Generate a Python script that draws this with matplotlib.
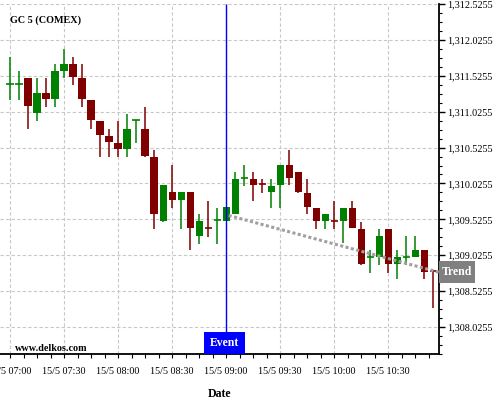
import matplotlib
matplotlib.use("Agg")
import matplotlib.pyplot as plt
from matplotlib.patches import Rectangle
from matplotlib.transforms import blended_transform_factory
from matplotlib.ticker import FixedLocator, MultipleLocator, FuncFormatter
import numpy as np

plt.rcParams['font.family'] = ['Liberation Serif', 'DejaVu Serif']

# 5-minute candles starting 15/5 07:00
opens  = [1311.410, 1311.410, 1311.498, 1311.002, 1311.289, 1311.196, 1311.599, 1311.692,
          1311.498, 1311.192, 1310.900, 1310.692, 1310.595, 1310.502, 1310.910, 1310.789,
          1310.400, 1309.502, 1309.900, 1309.794, 1309.900, 1309.294, 1309.410, 1309.512,
          1309.505, 1309.599, 1310.105, 1310.091, 1310.012, 1309.905, 1310.002, 1310.289,
          1310.188, 1309.896, 1309.688, 1309.502, 1309.507, 1309.502, 1309.688, 1309.396,
          1309.007, 1309.002, 1309.396, 1308.905, 1309.007, 1309.002, 1309.095, 1308.803]
highs  = [1311.789, 1311.591, 1311.498, 1311.498, 1311.498, 1311.692, 1311.896, 1311.789,
          1311.692, 1311.192, 1310.900, 1310.785, 1310.896, 1310.998, 1310.910, 1311.095,
          1310.494, 1309.998, 1310.280, 1309.900, 1309.900, 1309.595, 1309.785, 1309.682,
          1309.692, 1310.188, 1310.285, 1310.188, 1310.091, 1310.091, 1310.289, 1310.494,
          1310.188, 1310.088, 1309.688, 1309.595, 1309.782, 1309.688, 1309.785, 1309.494,
          1309.095, 1309.396, 1309.396, 1309.095, 1309.289, 1309.289, 1309.095, 1308.803]
lows   = [1311.188, 1311.188, 1310.785, 1310.896, 1311.091, 1311.091, 1311.494, 1311.396,
          1311.091, 1310.785, 1310.396, 1310.396, 1310.396, 1310.396, 1310.591, 1310.396,
          1309.396, 1309.490, 1309.688, 1309.396, 1309.095, 1309.188, 1309.283, 1309.188,
          1309.505, 1309.599, 1309.994, 1309.785, 1309.896, 1309.688, 1309.688, 1310.002,
          1309.887, 1309.595, 1309.396, 1309.396, 1309.396, 1309.192, 1309.405, 1308.896,
          1308.785, 1308.896, 1308.785, 1308.692, 1308.896, 1309.002, 1308.692, 1308.285]
closes = [1311.410, 1311.410, 1311.099, 1311.289, 1311.196, 1311.595, 1311.692, 1311.502,
          1311.196, 1310.905, 1310.696, 1310.599, 1310.502, 1310.789, 1310.910, 1310.405,
          1309.599, 1309.998, 1309.794, 1309.900, 1309.405, 1309.498, 1309.410, 1309.512,
          1309.692, 1310.091, 1310.105, 1309.998, 1310.012, 1309.994, 1310.289, 1310.099,
          1309.905, 1309.699, 1309.502, 1309.595, 1309.507, 1309.688, 1309.405, 1308.905,
          1309.007, 1309.289, 1308.905, 1308.998, 1309.007, 1309.095, 1308.794, 1308.803]
# direction for doji candles (True = up / green)
doji_up = {0: True, 1: True, 14: True, 22: False, 23: True, 26: True, 28: False,
           36: False, 40: True, 44: True, 47: False}

tick_labels = ["15/5 07:00", "15/5 07:30", "15/5 08:00", "15/5 08:30",
               "15/5 09:00", "15/5 09:30", "15/5 10:00", "15/5 10:30"]
tick_index = [0, 6, 12, 18, 24, 30, 36, 42]
event_index = 24
trend_x = [24.3, 47.63]
trend_y = [1309.58, 1308.79]

GREEN = '#008000'
RED = '#800000'

fig = plt.figure(figsize=(5, 4), dpi=100)
ax = fig.add_axes([0.0, 0.115, 0.8774, 0.875])

n = len(opens)
idx = np.arange(n)
bw = 0.78
for i in idx:
    o, h, l, c = opens[i], highs[i], lows[i], closes[i]
    if abs(c - o) < 1e-6:
        up = doji_up.get(i, True)
    else:
        up = c > o
    col = GREEN if up else RED
    ax.vlines(i, l, h, color=col, linewidth=1.1, zorder=3)
    if abs(c - o) < 0.02:
        ax.hlines((o + c) / 2, i - bw / 2, i + bw / 2, color=col, linewidth=1.2, zorder=3)
    else:
        ax.bar(i, abs(c - o), bottom=min(o, c), width=bw, color=col, zorder=4, linewidth=0)

ax.set_xlim(-1.111, 47.63)
ax.set_ylim(1307.65, 1312.5255)

# axes styling
for s in ['left', 'top']:
    ax.spines[s].set_visible(False)
for s in ['right', 'bottom']:
    ax.spines[s].set_linewidth(1.3)
    ax.spines[s].set_color('black')

ax.yaxis.tick_right()
ax.yaxis.set_major_locator(FixedLocator(np.arange(1308.0255, 1312.6, 0.5)))
ax.yaxis.set_minor_locator(FixedLocator(np.arange(1307.6505, 1312.6, 0.125)))
ax.yaxis.set_major_formatter(FuncFormatter(lambda v, p: f"{v:,.4f}"))
ax.tick_params(axis='y', which='major', direction='out', length=4, width=1, pad=2,
               labelsize=7.3, colors='black')
ax.tick_params(axis='y', which='minor', direction='out', length=2.5, width=0.8)

ax.set_xticks(tick_index)
ax.set_xticklabels(tick_labels)
ax.xaxis.set_minor_locator(MultipleLocator(1.5))
ax.tick_params(axis='x', which='major', direction='out', length=3, width=0.8, pad=6,
               labelsize=7.3)
ax.tick_params(axis='x', which='minor', direction='out', length=3, width=0.8)

ax.grid(True, which='major', color='#c8c8c8', linestyle=(0, (3, 2)), linewidth=0.8, zorder=0)
ax.set_axisbelow(True)

ax.set_xlabel("Date", fontsize=8.5, fontweight='bold', labelpad=9)

# trend line
ax.plot(trend_x, trend_y, color='#a0a0a0', linestyle=(0, (1, 0.8)), linewidth=2.2, zorder=5,
        solid_capstyle='butt', dash_capstyle='butt', clip_on=False)

# event marker
bt = blended_transform_factory(ax.transData, ax.transAxes)
box_h = 22 / 350
ax.vlines(event_index, box_h, 1.0, transform=bt, color='#0000ff', linewidth=1.0, zorder=6)
ax.add_patch(Rectangle((event_index - 2.44, 0), 4.52, box_h, transform=bt,
                       facecolor='#0000ff', edgecolor='none', zorder=7, clip_on=False))
ax.text(event_index - 0.18, box_h / 2, "Event", transform=bt, color='white', fontsize=8.5,
        fontweight='bold', ha='center', va='center', zorder=8)

# trend label
bt2 = blended_transform_factory(ax.transAxes, ax.transData)
ax.add_patch(Rectangle((1.0, trend_y[1] - 0.15), 0.0837, 0.30, transform=bt2,
                       facecolor='#808080', edgecolor='none', zorder=7, clip_on=False))
ax.text(1.0 + 0.0837 / 2, trend_y[1], "Trend", transform=bt2, color='white', fontsize=8.5,
        fontweight='bold', ha='center', va='center', zorder=8)

ax.text(0.0228, 0.954, "GC 5 (COMEX)", transform=ax.transAxes, fontsize=7.3,
        fontweight='bold', ha='left', va='center')
ax.text(0.034, 0.017, "www.delkos.com", transform=ax.transAxes, fontsize=7.3,
        fontweight='bold', ha='left', va='center')

fig.savefig("out.png", dpi=100)
